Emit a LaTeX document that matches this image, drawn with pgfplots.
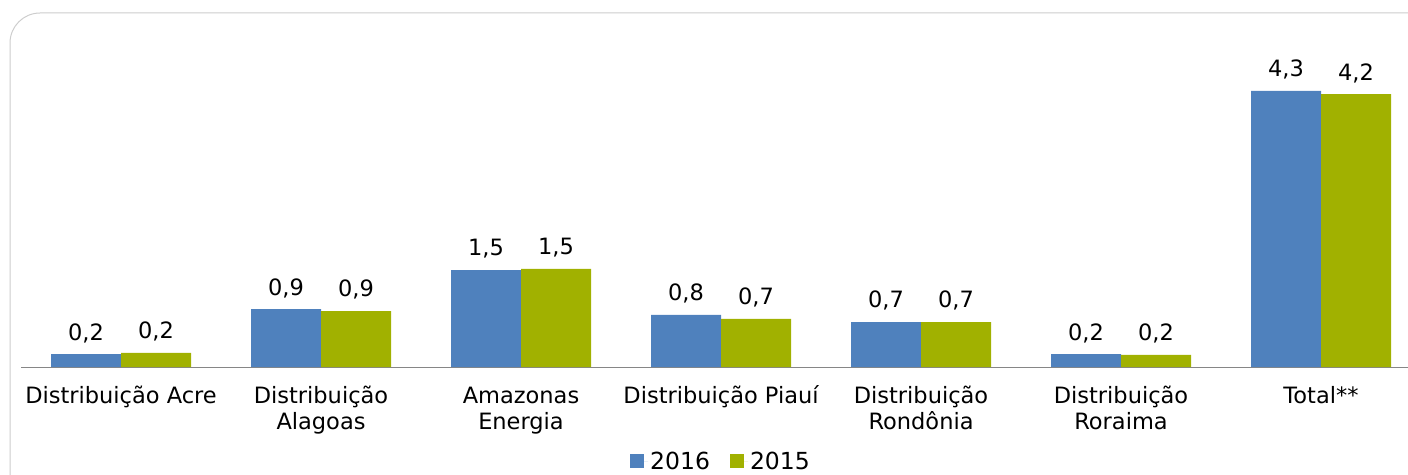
\documentclass[border=0pt]{standalone}
\usepackage{pgfplots}
\pgfplotsset{compat=1.18}
\usepackage{pgfplotstable}
\usepackage{fontspec}
\setmainfont{DejaVu Sans}
\definecolor{cblue}{RGB}{79,129,189}
\definecolor{cgreen}{RGB}{161,177,0}
\definecolor{frame}{RGB}{205,205,205}
\definecolor{axgray}{RGB}{134,134,134}
\newcommand{\st}{\rule{0pt}{20pt}}
\pgfplotstableread{
x y lab
0 0.20 0,2
1 0.90 0,9
2 1.51 1,5
3 0.81 0,8
4 0.70 0,7
5 0.20 0,2
6 4.30 4,3
}\dataA
\pgfplotstableread{
x y lab
0 0.22 0,2
1 0.87 0,9
2 1.53 1,5
3 0.75 0,7
4 0.70 0,7
5 0.19 0,2
6 4.25 4,2
}\dataB
\begin{document}
\begin{tikzpicture}[x=1pt,y=1pt]
\clip (0,0) rectangle (1408,474);
\draw[frame, line width=1pt, rounded corners=30pt] (10,-30) rectangle (1450,461);
\begin{axis}[
  at={(21pt,107pt)}, anchor=south west,
  x=200pt, y=64.2pt,
  xmin=-0.5, xmax=6.5, ymin=0, ymax=5,
  ybar=0pt, bar width=70pt,
  axis x line*=bottom, hide y axis,
  axis line style={draw=axgray, line width=1pt},
  xtick=data, major tick length=0pt,
  xticklabels={\st Distribuição Acre,{\st Distribuição\\Alagoas},{\st Amazonas\\Energia},\st Distribuição Piauí,{\st Distribuição\\Rondônia},{\st Distribuição\\Roraima},\st Total**},
  xticklabel style={align=center, font=\fontsize{22.5pt}{26pt}\selectfont, yshift=-13pt},
  nodes near coords, point meta=explicit symbolic,
  every node near coord/.append style={font=\fontsize{22.5pt}{26pt}\selectfont, anchor=south, yshift=8pt},
  legend style={at={(0.5,-0.258)}, anchor=north, draw=none, legend columns=2,
    font=\fontsize{23.5pt}{26pt}\selectfont, inner sep=0pt,
    /tikz/every even column/.append style={column sep=18pt}},
  legend image code/.code={\path (0pt,0pt) -- (18pt,0pt);\fill[#1] (0pt,-7pt) rectangle (14pt,7pt);},
  clip=false,
]
\addplot[fill=cblue, draw=none] table[x=x, y=y, meta=lab] {\dataA};
\addplot[fill=cgreen, draw=none] table[x=x, y=y, meta=lab] {\dataB};
\legend{2016,2015}
\end{axis}
\end{tikzpicture}
\end{document}
